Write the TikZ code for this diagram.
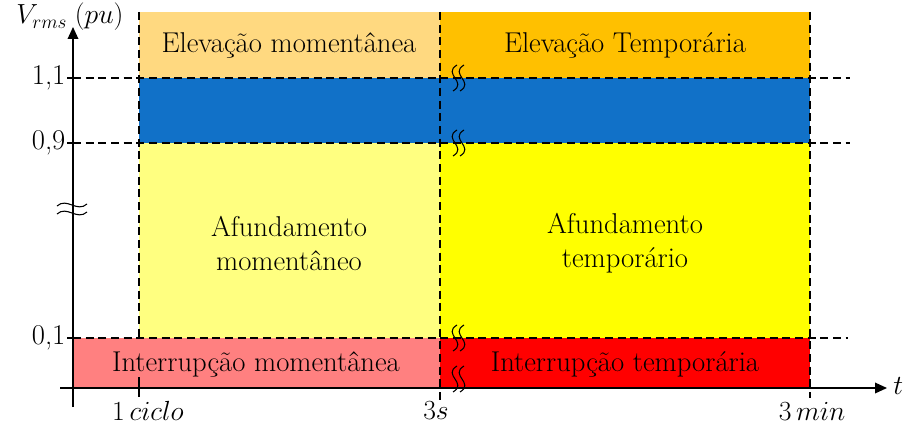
\documentclass[tikz,border=0pt]{standalone}
\usepackage{amsmath}
\usepackage{tikz}
\usetikzlibrary{positioning,arrows.meta,calc}

\begin{document}
\begin{tikzpicture}[x=0.75pt,y=-0.75pt,
  every node/.style={font=\fontsize{21.5}{25.5}\selectfont},
  dashln/.style={dash pattern=on 6pt off 3.5pt,line width=0.9pt},
  axisln/.style={line width=1pt,-{Triangle[length=9pt,width=8pt]}},
  wavy/.style={line width=0.8pt}]

\definecolor{elevmom}{RGB}{255,217,128}
\definecolor{elevtemp}{RGB}{255,192,0}
\definecolor{faixa}{RGB}{17,113,200}
\definecolor{afmom}{RGB}{255,255,128}
\definecolor{aftemp}{RGB}{255,255,0}
\definecolor{intmom}{RGB}{255,128,128}
\definecolor{inttemp}{RGB}{255,0,0}

\useasboundingbox (0,0) rectangle (903,435);

% ===================== REGIONS =====================
\fill[elevmom]  (139,12)  rectangle (440,78);
\fill[elevtemp] (440,12)  rectangle (810,78);
\fill[faixa]    (139,78)  rectangle (810,143);
\fill[afmom]    (139,143) rectangle (440,338);
\fill[aftemp]   (440,143) rectangle (810,338);
\fill[intmom]   (73,338)  rectangle (440,388);
\fill[inttemp]  (440,338) rectangle (810,388);

\node (elevmomtxt)  at (289,45)  {Elevação momentânea};
\node (elevtemptxt) at (625,45)  {Elevação Temporária};
\node[align=center] (afmomtxt)  at (289,243) {Afundamento\\momentâneo};
\node[align=center] (aftemptxt) at (625,243) {Afundamento\\temporário};
\node (intmomtxt)  at (256,364) {Interrupção momentânea};
\node (inttemptxt) at (625,364) {Interrupção temporária};

% ===================== DASHED GUIDES =====================
\draw[dashln] (73,78)  -- (850,78);
\draw[dashln] (73,143) -- (850,143);
\draw[dashln] (73,338) -- (848,338);
\draw[dashln] (139,12) -- (139,338);
\draw[dashln] (440,12) -- (440,401);
\draw[dashln] (810,12) -- (810,398);

% ===================== AXES =====================
\coordinate (ybot) at (73,407);
\coordinate (ytop) at (73,27);
\coordinate (xleft) at (60,388);
\coordinate (xright) at (887,388);
\draw[axisln] (ybot) -- (ytop);
\draw[axisln] (xleft) -- (xright);

\node (ylab) at (70,17) {$V_{rms}\;(pu)$};
\node[anchor=west,inner sep=0pt] (tlab) at (893,386) {$t$};

% ticks and values
\foreach \yy/\lbl/\nm in {78/{1,1}/v11,143/{0,9}/v09,338/{0,1}/v01}{
  \draw[line width=0.9pt] (67,\yy) -- (73,\yy);
  \node[anchor=east,inner sep=1pt] (\nm) at (67,\yy) {\lbl};
}
\draw[line width=0.9pt] (139,377) -- (139,397);
\node (tciclo) at (148,411) {$1\,ciclo$};
\node (tseg)   at (436,411) {$3s$};
\node (tmin)   at (812,411) {$3\,min$};

% ===================== BREAK MARKS =====================
\foreach \yy in {205,213}
  \draw[wavy] (57,\yy+1) .. controls (67,\yy-8) and (77,\yy+8) .. (87,\yy-1);
\foreach \yy in {78,143,338,379}
  \foreach \xx in {455,462}
    \draw[wavy] (\xx+2,\yy-13) .. controls (\xx-13,\yy-4) and (\xx+13,\yy+4) .. (\xx-2,\yy+13);

\end{tikzpicture}
\end{document}
